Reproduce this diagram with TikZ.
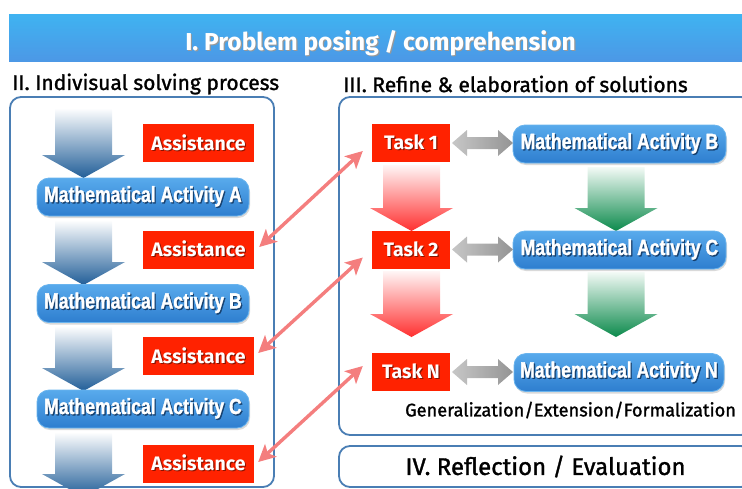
\documentclass[tikz,border=0pt]{standalone}
\usepackage{fontspec}
\setmainfont{Fira Sans}
\newfontfamily\chalk{Fira Sans}
\newfontfamily\chalkm{Fira Sans}[FakeBold=1.3]
\newfontfamily\impact{Liberation Sans}[FakeStretch=0.8,FakeBold=1.4]
\usetikzlibrary{arrows.meta,shadows}

\definecolor{hdrT}{HTML}{3FB3F1}
\definecolor{hdrB}{HTML}{4C98E6}
\definecolor{frame}{HTML}{4A7EB4}
\definecolor{redbox}{HTML}{FF2200}
\definecolor{pillT}{HTML}{58AAEC}
\definecolor{pillB}{HTML}{2E7ECF}
\definecolor{pillRim}{HTML}{6AB4EE}
\definecolor{pinkc}{HTML}{F47E7E}
\definecolor{navy}{HTML}{16406E}
\definecolor{darkred}{HTML}{8A1400}
\definecolor{blueTop}{HTML}{FFFFFF}
\definecolor{blueMid}{HTML}{C9DAEA}
\definecolor{blueTip}{HTML}{215E98}
\definecolor{redTop}{HTML}{FFF6F6}
\definecolor{redMid}{HTML}{FFBDBD}
\definecolor{redTip}{HTML}{FF3030}
\definecolor{grnTop}{HTML}{F3FAF6}
\definecolor{grnMid}{HTML}{BFE3CF}
\definecolor{grnTip}{HTML}{0C8A4C}

% white text with a soft offset shadow
\newcommand\shd[2]{\makebox[0pt][l]{\kern1.2pt\raisebox{-1.3pt}{\textcolor{#1}{#2}}}#2}

% broad shaded arrow pointing down: x centre, top y, tip y, three colours
\newcommand\fatdown[6]{%
  \shade[top color=#4, middle color=#5, bottom color=#6]
    ({#1-28.5},#2) -- ({#1+28.5},#2) -- ({#1+28.5},{#3-23}) -- ({#1+41.5},{#3-23})
    -- (#1,#3) -- ({#1-41.5},{#3-23}) -- ({#1-28.5},{#3-23}) -- cycle;}

% grey two-headed arrow between a task and its activity
\newcommand\twoway[3]{%
  \shade[left color=black!22, right color=black!42]
    (#1,#3) -- ({#1+15},{#3-13}) -- ({#1+15},{#3-6}) -- ({#2-15},{#3-6})
    -- ({#2-15},{#3-13}) -- (#2,#3) -- ({#2-15},{#3+13}) -- ({#2-15},{#3+6})
    -- ({#1+15},{#3+6}) -- ({#1+15},{#3+13}) -- cycle;}

\begin{document}
\begin{tikzpicture}[x=1pt,y=-1pt,
  header/.style={minimum width=743pt, minimum height=47pt, inner sep=0pt,
    top color=hdrT, bottom color=hdrB, text=white,
    font=\chalk\bfseries\fontsize{24.5}{24.5}\selectfont},
  section/.style={anchor=west, inner sep=0pt, text=black,
    font=\chalkm\fontsize{21}{21}\selectfont},
  panel/.style={draw=frame, line width=1.8pt, rounded corners=11pt, inner sep=0pt},
  pill/.style={rounded corners=12pt, minimum height=38pt, inner sep=0pt,
    top color=pillT, bottom color=pillB, draw=pillRim, line width=0.8pt,
    drop shadow={shadow xshift=1pt, shadow yshift=-2pt, opacity=0.3},
    text=white, font=\impact\bfseries\fontsize{22}{22}\selectfont},
  redtag/.style={fill=redbox, minimum height=38pt, inner sep=0pt, text=white,
    font=\chalk\bfseries\fontsize{19.5}{19.5}\selectfont},
  assist/.style={redtag, minimum width=111pt},
  task/.style={redtag, minimum width=78pt},
  pinkarrow/.style={draw=pinkc, line width=3.4pt, line cap=round,
    {Stealth[length=17pt,width=17pt,inset=4pt]}-{Stealth[length=17pt,width=17pt,inset=4pt]}}
]
\useasboundingbox (0,0) rectangle (742,488);

% banner
\node[header] (head) at (380.5,37.5)
  {\raisebox{-12.5pt}[0pt][0pt]{\shd{black!40}{I. Problem posing / comprehension}}};

% section titles
\node[section] (lblII) at (12,84) {II. Indivisual solving process};
\node[section] (lblIII) at (343,84) {III. Refine \& elaboration of solutions};

% panels
\node[panel, minimum width=264pt, minimum height=390pt] (boxII) at (142,292) {};
\node[panel, minimum width=413pt, minimum height=338pt] (boxIII) at (545.5,266) {};
\node[panel, minimum width=413pt, minimum height=41pt,
  font=\chalkm\fontsize{24}{24}\selectfont] (boxIV) at (545.5,466.5)
  {IV. Reflection / Evaluation};

% flow arrows, left column
\fatdown{83.5}{108}{178}{blueTop}{blueMid}{blueTip}
\fatdown{83.5}{220}{285}{blueTop}{blueMid}{blueTip}
\fatdown{83.5}{326}{391}{blueTop}{blueMid}{blueTip}
\fatdown{83.5}{432}{497}{blueTop}{blueMid}{blueTip}

% flow arrows, right column
\fatdown{411.5}{165}{231}{redTop}{redMid}{redTip}
\fatdown{411.5}{271}{337}{redTop}{redMid}{redTip}
\fatdown{616}{167}{231}{grnTop}{grnMid}{grnTip}
\fatdown{616}{272}{337}{grnTop}{grnMid}{grnTip}

% left column: activities and assistance
\node[assist] (asA) at (198.5,143) {\shd{darkred}{Assistance}};
\node[pill, minimum width=212pt] (maA) at (143,197) {\shd{navy}{Mathematical Activity A}};
\node[assist] (asB) at (198.5,249.5) {\shd{darkred}{Assistance}};
\node[pill, minimum width=212pt] (maB) at (143,303.5) {\shd{navy}{Mathematical Activity B}};
\node[assist] (asC) at (198.5,356) {\shd{darkred}{Assistance}};
\node[pill, minimum width=212pt] (maC) at (143,409) {\shd{navy}{Mathematical Activity C}};
\node[assist] (asD) at (198.5,463.5) {\shd{darkred}{Assistance}};

% right column: tasks and activities
\node[task] (t1) at (411,143) {\shd{darkred}{Task 1}};
\node[pill, minimum width=213pt] (mB) at (619.5,144) {\shd{navy}{Mathematical Activity B}};
\node[task] (t2) at (411,249.5) {\shd{darkred}{Task 2}};
\node[pill, minimum width=213pt] (mC) at (619.5,250) {\shd{navy}{Mathematical Activity C}};
\node[task] (tN) at (411,372) {\shd{darkred}{Task N}};
\node[pill, minimum width=210pt] (mN) at (619,372.5) {\shd{navy}{Mathematical Activity N}};
\node[anchor=west, inner sep=0pt, font=\chalkm\fontsize{18.2}{18.2}\selectfont]
  (gen) at (405,410) {Generalization/Extension/Formalization};

% task <-> activity links
\twoway{452}{513}{143}
\twoway{452}{513}{249.5}
\twoway{452}{513}{372}

% assistance <-> task links
\draw[pinkarrow] ([shift={(5,-2.5)}]asB.east) -- ([shift={(-9,8)}]t1.west);
\draw[pinkarrow] ([shift={(4,-3)}]asC.east) -- ([shift={(-9,8)}]t2.west);
\draw[pinkarrow] ([shift={(4,-1.5)}]asD.east) -- ([shift={(-9,-6)}]tN.west);
\end{tikzpicture}
\end{document}
